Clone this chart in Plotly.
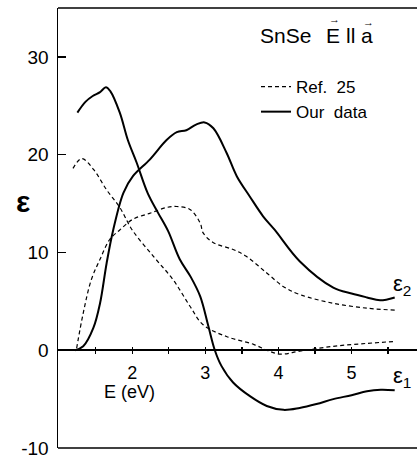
import plotly.graph_objects as go

# Our data (solid)
e1_our_E = [1.25, 1.36, 1.46, 1.56, 1.64, 1.70, 1.83, 1.94, 2.06, 2.21, 2.35, 2.49, 2.65, 2.80, 2.93, 3.04, 3.13, 3.22, 3.38, 3.61, 3.84, 4.07, 4.29, 4.52, 4.75, 5.00, 5.21, 5.40, 5.59]
e1_our_v = [24.3, 25.4, 26.0, 26.4, 26.9, 26.5, 24.3, 21.5, 19.2, 16.1, 14.1, 12.2, 9.3, 7.5, 5.5, 2.5, 0.0, -1.6, -3.3, -4.7, -5.7, -6.1, -5.9, -5.5, -5.0, -4.6, -4.2, -4.05, -4.1]
e2_our_E = [1.22, 1.33, 1.47, 1.56, 1.65, 1.74, 1.88, 2.01, 2.24, 2.47, 2.61, 2.74, 2.88, 2.99, 3.11, 3.29, 3.43, 3.61, 3.79, 3.95, 4.29, 4.75, 5.00, 5.21, 5.39, 5.59]
e2_our_v = [0.0, 0.4, 2.3, 4.8, 8.9, 12.3, 16.1, 17.8, 19.5, 21.5, 22.3, 22.5, 23.1, 23.3, 22.7, 20.2, 17.8, 15.7, 13.7, 12.3, 9.1, 6.4, 5.8, 5.4, 5.1, 5.4]

# Ref. 25 (dashed)
e1_ref_E = [1.19, 1.31, 1.47, 1.65, 1.83, 2.00, 2.29, 2.56, 2.79, 2.97, 3.29, 3.66, 3.84, 4.02, 4.29, 4.75, 5.21, 5.59]
e1_ref_v = [18.6, 19.6, 18.5, 16.4, 14.6, 12.3, 9.6, 7.2, 4.5, 2.6, 1.4, 0.6, 0.0, -0.4, -0.1, 0.4, 0.7, 0.9]
e2_ref_E = [1.24, 1.33, 1.44, 1.56, 1.69, 1.83, 2.01, 2.24, 2.47, 2.61, 2.79, 2.93, 2.97, 3.11, 3.38, 3.56, 3.84, 4.07, 4.29, 4.75, 5.21, 5.59]
e2_ref_v = [0.2, 3.8, 7.2, 9.3, 11.3, 12.3, 13.4, 14.0, 14.6, 14.7, 14.4, 13.0, 12.0, 11.0, 10.3, 9.6, 7.9, 6.5, 5.7, 4.8, 4.3, 4.1]

y_ticks = [30, 20, 10, 0, -10]
y_ticktext = ["30", "20", "10", "0", "-10"]
x_ticks = [2, 3, 4, 5]
x_minor_ticks = [1.5, 2.5, 3.5, 4.5, 5.5]

FONT = "Liberation Sans"
solid = dict(color="black", width=2)
dashed = dict(color="black", width=1.2, dash="4px,3px")

# plot area in pixels
L, T, R, B = 58, 8, 417, 448
W, H = R - L, B - T


def px(xp):
    return (xp - L) / W


def py(yp):
    return 1 - (yp - T) / H


fig = go.Figure()
fig.add_trace(go.Scatter(x=e1_ref_E, y=e1_ref_v, mode="lines", line=dashed, line_shape="spline",
                         name="Ref.  25", showlegend=True))
fig.add_trace(go.Scatter(x=e2_ref_E, y=e2_ref_v, mode="lines", line=dashed, line_shape="spline",
                         showlegend=False))
fig.add_trace(go.Scatter(x=e1_our_E, y=e1_our_v, mode="lines", line=solid, line_shape="spline",
                         name="Our  data", showlegend=True))
fig.add_trace(go.Scatter(x=e2_our_E, y=e2_our_v, mode="lines", line=solid, line_shape="spline",
                         showlegend=False))

xr = [0.985, 5.895]
# x axis sits just above the zero line so that its ticks cross it
zero_pos = 10 / 45 + 4 / H

fig.update_layout(
    width=417, height=455,
    margin=dict(l=L, r=417 - R, t=T, b=455 - B, autoexpand=False),
    paper_bgcolor="white", plot_bgcolor="white",
    font=dict(family=FONT, size=18, color="black"),
    xaxis=dict(range=xr, anchor="free", position=zero_pos, showline=False,
               showgrid=False, zeroline=False, ticks="outside", ticklen=7, tickwidth=1.3,
               tickcolor="black", tickvals=x_ticks,
               minor=dict(tickvals=x_minor_ticks, ticks="outside", ticklen=7, tickwidth=1.3,
                          tickcolor="black", showgrid=False),
               tickfont=dict(size=18), ticklabelstandoff=3, automargin=False),
    yaxis=dict(range=[-10, 35], showline=True, linecolor="black", linewidth=1.5,
               showgrid=False, zeroline=True, zerolinecolor="black", zerolinewidth=1.5,
               ticks="inside", ticklen=8, tickwidth=1.3, tickcolor="black",
               tickvals=y_ticks, ticktext=y_ticktext, tickfont=dict(size=19),
               ticklabelstandoff=4, ticklabeloverflow="allow", automargin=False),
    legend=dict(x=px(256), y=py(69), xanchor="left", yanchor="top", bgcolor="rgba(0,0,0,0)",
                font=dict(size=17), itemwidth=30, tracegroupgap=0),
    showlegend=True,
)

# frame lines (top and bottom of the plot box)
fig.add_shape(type="line", xref="paper", yref="paper", x0=0, x1=1, y0=1, y1=1,
              line=dict(color="black", width=1.5))
fig.add_shape(type="line", xref="paper", yref="paper", x0=0, x1=1, y0=0, y1=0,
              line=dict(color="black", width=1.5))

# title and labels
title_parts = [("SnSe", 258, "left"), ("E", 333, "center"), ("ll", 350, "center"), ("a", 367, "center")]
for txt, xx, anc in title_parts:
    fig.add_annotation(text=txt, x=px(xx), y=py(36), xref="paper", yref="paper",
                       xanchor=anc, yanchor="middle", showarrow=False, font=dict(size=21))
fig.add_annotation(text="\u2192", x=px(334), y=py(19), xref="paper", yref="paper",
                   xanchor="center", yanchor="middle", showarrow=False, font=dict(size=11))
fig.add_annotation(text="\u2192", x=px(368), y=py(22), xref="paper", yref="paper",
                   xanchor="center", yanchor="middle", showarrow=False, font=dict(size=11))
fig.add_annotation(text="<b>\u03b5</b>", x=px(23), y=py(201), xref="paper", yref="paper",
                   xanchor="center", yanchor="middle", showarrow=False, font=dict(size=30))
fig.add_annotation(text="E (eV)", x=px(129), y=py(392), xref="paper", yref="paper",
                   xanchor="center", yanchor="middle", showarrow=False, font=dict(size=18))
fig.add_annotation(text="\u03b5<sub>2</sub>", x=px(391), y=py(285), xref="paper", yref="paper",
                   xanchor="left", yanchor="middle", showarrow=False, font=dict(size=22))
fig.add_annotation(text="\u03b5<sub>1</sub>", x=px(391), y=py(377), xref="paper", yref="paper",
                   xanchor="left", yanchor="middle", showarrow=False, font=dict(size=22))

fig.write_html("out.html", config={"displayModeBar": False, "staticPlot": True},
               post_script="document.body.style.margin='0px';")
